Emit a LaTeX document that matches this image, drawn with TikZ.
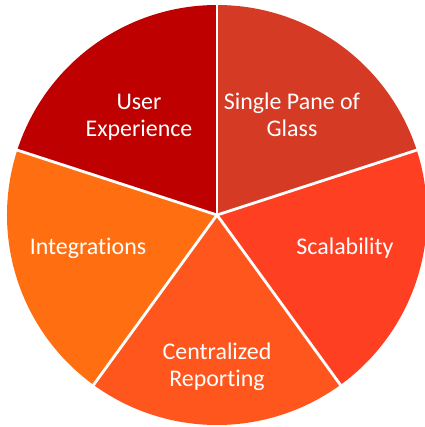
\documentclass[tikz,border=0pt]{standalone}
\usepackage{fontspec}
\setmainfont{Carlito}[Ligatures=NoCommon]
\definecolor{cUX}{HTML}{BE0000}
\definecolor{cSP}{HTML}{D43A24}
\definecolor{cSC}{HTML}{FF3F22}
\definecolor{cCR}{HTML}{FF561E}
\definecolor{cIN}{HTML}{FF6F11}
\begin{document}
\begin{tikzpicture}[x=1bp,y=1bp,
  slice/.style={draw=white,line width=2.8bp,line join=round},
  lbl/.style={text=white,align=center,font=\fontsize{24}{27}\selectfont,inner sep=0pt}]
\useasboundingbox (0,0) rectangle (425,427);
\begin{scope}
\clip (0,0) rectangle (425,427);
\coordinate (c) at (217,212);
\fill[cSP] (c) -- ++(90:210) arc[start angle=90,end angle=18,radius=210] -- cycle;
\fill[cSC] (c) -- ++(18:210) arc[start angle=18,end angle=-54,radius=210] -- cycle;
\fill[cCR] (c) -- ++(-54:210) arc[start angle=-54,end angle=-126,radius=210] -- cycle;
\fill[cIN] (c) -- ++(-126:210) arc[start angle=-126,end angle=-198,radius=210] -- cycle;
\fill[cUX] (c) -- ++(162:210) arc[start angle=162,end angle=90,radius=210] -- cycle;
\foreach \a in {90,18,-54,-126,162} \draw[slice] (c) -- ++(\a:212);
\end{scope}
\node[lbl] (ux) at (139,310) {User\\Experience};
\node[lbl] (sp) at (292,312) {Single Pane of\\Glass};
\node[lbl] (sc) at (345,179) {Scalability};
\node[lbl] (cr) at (217,60) {Centralized\\Reporting};
\node[lbl] (in) at (88,179) {Integrations};
\end{tikzpicture}
\end{document}
